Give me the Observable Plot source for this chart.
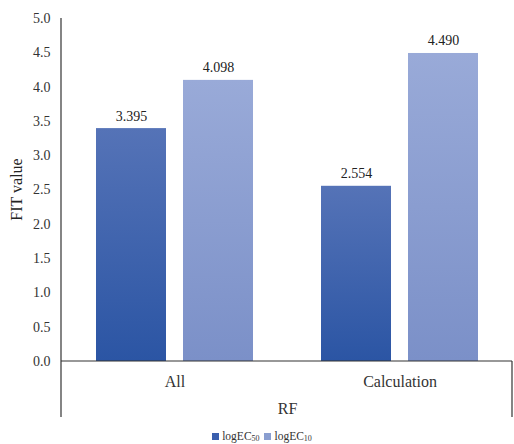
<!DOCTYPE html>
<html>
<head>
<meta charset="utf-8">
<script src="https://cdn.jsdelivr.net/npm/d3@7"></script>
<script src="https://cdn.jsdelivr.net/npm/@observablehq/plot@0.6"></script>
<style>
  html, body { margin: 0; padding: 0; background: #fff; }
  #chart { width: 514px; }
  #chart svg, #chart svg text { font-family: "Liberation Serif", "Times New Roman", serif !important; }
  .legend { font-family: "Liberation Serif", serif; font-size: 11.5px; color: #333; text-align: center; height: 16px; padding-top: 4px; line-height: 16px; margin-left: 10px; }
  .legend span.sw { display: inline-block; width: 7px; height: 7px; margin-right: 3px; vertical-align: 0px; }
  .legend sub { font-size: 8px; vertical-align: -1px; line-height: 0; }
  .legend .item { margin: 0 1px; }
</style>
</head>
<body>
<div id="chart"></div>
<script>
const categories = ["All", "Calculation"];
const series = ["logEC50", "logEC10"];
const logEC50 = [3.395, 2.554];
const logEC10 = [4.098, 4.490];
const yTicks = [0, 0.5, 1, 1.5, 2, 2.5, 3, 3.5, 4, 4.5, 5];
const yLabel = "FIT value";
const xLabel = "RF";

const data = [];
categories.forEach((c, i) => {
  data.push({category: c, series: series[0], value: logEC50[i]});
  data.push({category: c, series: series[1], value: logEC10[i]});
});

const W = 514, H = 424, mL = 61, mR = 2, mT = 18, mB = 63;

const plot = Plot.plot({
  width: W, height: H,
  marginLeft: mL, marginRight: mR, marginTop: mT, marginBottom: mB,
  style: {fontFamily: "'Liberation Serif', serif", fontSize: "13px", color: "#333", background: "#fff"},
  fx: {domain: categories, padding: 0, label: null},
  x: {domain: series, paddingInner: 0.195, paddingOuter: 0.39, axis: null},
  y: {domain: [0, 5], label: null},
  color: {domain: series, range: ["url(#gDark)", "url(#gLight)"]},
  marks: [
    Plot.barY(data, {fx: "category", x: "series", y: "value", fill: "series"}),
    Plot.text(data, {fx: "category", x: "series", y: "value", text: d => d.value.toFixed(3), dy: -8, lineAnchor: "bottom", fontSize: 14, fill: "#222"}),
    Plot.axisY({ticks: yTicks, tickFormat: d3.format(".1f"), tickSize: 0, tickPadding: 12, fontSize: 14, label: null}),
    Plot.axisFx({anchor: "bottom", tickSize: 0, tickPadding: 14, fontSize: 16, label: xLabel, labelAnchor: "center", labelOffset: 52, labelArrow: "none"})
  ]
});

const svg = d3.select(plot);
svg.attr("font-family", "Liberation Serif, serif");
const defs = svg.insert("defs", ":first-child");
function grad(id, top, bottom) {
  const g = defs.append("linearGradient").attr("id", id).attr("x1", 0).attr("y1", 0).attr("x2", 0).attr("y2", 1);
  g.append("stop").attr("offset", "0%").attr("stop-color", top);
  g.append("stop").attr("offset", "100%").attr("stop-color", bottom);
}
grad("gDark", "#5573B7", "#2B55A4");
grad("gLight", "#99AAD8", "#7B90C8");

const ys = plot.scale("y");
const y0 = ys.apply(0), y5 = ys.apply(5);
const bottom = 417;
const lines = svg.append("g").attr("stroke", "#333").attr("stroke-width", 1.2).attr("fill", "none");
lines.append("line").attr("x1", mL).attr("x2", mL).attr("y1", y5).attr("y2", bottom);
lines.append("line").attr("x1", mL).attr("x2", W - mR).attr("y1", y0).attr("y2", y0);
lines.append("line").attr("x1", W - mR).attr("x2", W - mR).attr("y1", y0).attr("y2", bottom);

svg.append("text")
  .attr("transform", `translate(16,${(y0 + y5) / 2}) rotate(-90)`)
  .attr("text-anchor", "middle").attr("dy", "0.35em")
  .attr("font-size", 16).attr("fill", "#222")
  .text(yLabel);

document.getElementById("chart").appendChild(plot);

const legend = document.createElement("div");
legend.className = "legend";
legend.innerHTML = `<span class="item"><span class="sw" style="background:#3A5FAE"></span>logEC<sub>50</sub></span> <span class="item"><span class="sw" style="background:#8A9ED0"></span>logEC<sub>10</sub></span>`;
document.getElementById("chart").appendChild(legend);
</script>
</body>
</html>
